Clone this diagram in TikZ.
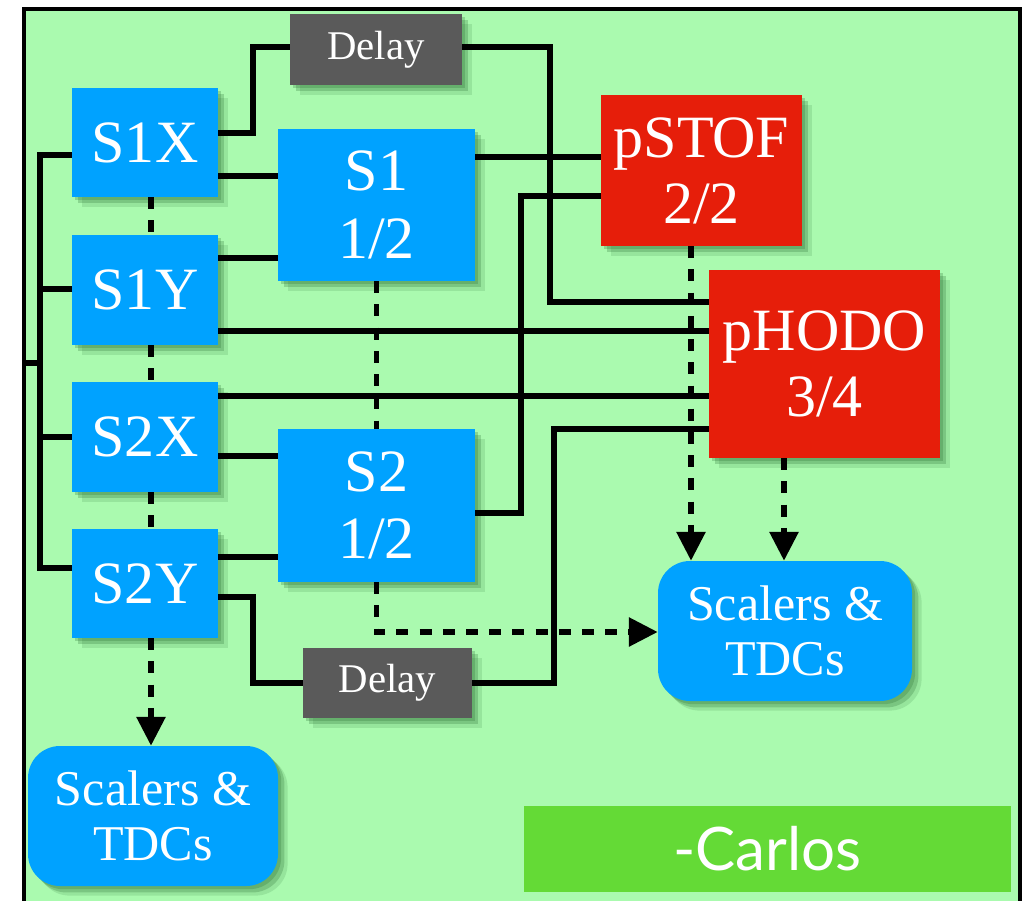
\documentclass[tikz,border=0pt]{standalone}
\usepackage{fontspec}
\setmainfont{Liberation Serif}
\newfontfamily\signfont{Lato}
\usetikzlibrary{arrows.meta,shadows}

\definecolor{panel}{RGB}{170,250,175}
\definecolor{chanblue}{RGB}{0,162,255}
\definecolor{trigred}{RGB}{230,30,10}
\definecolor{delaygray}{RGB}{90,90,90}
\definecolor{signgreen}{RGB}{100,218,54}
\definecolor{shadowgreen}{RGB}{40,110,50}

\begin{document}
\begin{tikzpicture}[x=0.025cm,y=-0.025cm,
  sz/.style 2 args={minimum width=#1*0.025cm, minimum height=#2*0.025cm},
  shadowed/.style={
    general shadow={shadow xshift=0.08cm, shadow yshift=-0.08cm, fill=shadowgreen, opacity=.25},
    general shadow={shadow xshift=0.16cm, shadow yshift=-0.16cm, fill=shadowgreen, opacity=.25},
    general shadow={shadow xshift=0.24cm, shadow yshift=-0.24cm, fill=shadowgreen, opacity=.15}},
  block/.style={shadowed, fill=chanblue, text=white, align=center, inner sep=0pt,
    font=\fontsize{42.7}{48}\selectfont},
  trig/.style={block, fill=trigred, font=\fontsize{42.7}{47}\selectfont},
  delaybox/.style={shadowed, fill=delaygray, text=white, inner sep=0pt,
    font=\fontsize{29}{34}\selectfont},
  readout/.style={shadowed, fill=chanblue, rounded corners=0.8cm, text=white, align=center,
    inner sep=0pt, font=\fontsize{35.6}{39}\selectfont},
  wire/.style={line width=0.13cm},
  logic/.style={line width=0.14cm, dash pattern=on 0.3cm off 0.28cm},
  tip/.style={-{Triangle[width=0.7cm,length=0.72cm]}}]

\useasboundingbox (0,0) rectangle (1031,900);

% panel and its frame
\fill[panel] (24,9) rectangle (1020,905);
\draw[line width=0.12cm] (24,905) -- (24,9) -- (1020,9) -- (1020,905);

% scintillator planes
\node[block, sz={146}{109}] (s1x) at (145,142.5) {S1X};
\node[block, sz={146}{110}] (s1y) at (145,290) {S1Y};
\node[block, sz={146}{110}] (s2x) at (145,437) {S2X};
\node[block, sz={146}{109}] (s2y) at (145,583.5) {S2Y};

% coincidence units
\node[block, sz={197}{152}] (s1) at (376.5,205) {S1\\1/2};
\node[block, sz={197}{153}] (s2) at (376.5,505.5) {S2\\1/2};

% trigger logic
\node[trig, sz={201}{151}] (pstof) at (701.5,170.5) {pSTOF\\2/2};
\node[trig, sz={231}{188}] (phodo) at (824.5,364) {pHODO\\3/4};

% delays
\node[delaybox, sz={172}{71}] (delayA) at (376,49.5) {Delay};
\node[delaybox, sz={169}{70}] (delayB) at (387.5,683) {Delay};

% readout
\node[readout, sz={254}{140}] (scalR) at (785,631) {Scalers \&\\TDCs};
\node[readout, sz={250}{140}] (scalL) at (153,816) {Scalers \&\\TDCs};

% signature
\node[fill=signgreen, text=white, sz={487}{86}, inner sep=0pt,
  font=\signfont\fontsize{42.7}{48}\selectfont] (sign) at (767.5,849) {-Carlos};

% input bus feeding the four planes
\coordinate (feed) at (24,363);
\draw[wire] (s1x.west |- 0,155) -| (40,568) -- (s2y.west |- 0,568);
\draw[wire] (40,289) -- (s1y.west |- 0,289);
\draw[wire] (40,437) -- (s2x.west |- 0,437);
\draw[wire] (feed) -- (40,363);

% plane outputs
\draw[wire] (s1x.east |- 0,133) -| (253,47) -- (delayA.west |- 0,47);
\draw[wire] (s1x.east |- 0,176) -- (s1.west |- 0,176);
\draw[wire] (s1y.east |- 0,258) -- (s1.west |- 0,258);
\draw[wire] (s1y.east |- 0,331) -- (phodo.west |- 0,331);
\draw[wire] (s2x.east |- 0,396) -- (phodo.west |- 0,396);
\draw[wire] (s2x.east |- 0,456) -- (s2.west |- 0,456);
\draw[wire] (s2y.east |- 0,557) -- (s2.west |- 0,557);
\draw[wire] (s2y.east |- 0,597) -| (253,683) -- (delayB.west |- 0,683);

% into the trigger logic
\draw[wire] (delayA.east |- 0,47) -| (550,302) -- (phodo.west |- 0,302);
\draw[wire] (s1.east |- 0,157) -- (pstof.west |- 0,157);
\draw[wire] (s2.east |- 0,513) -| (521,196) -- (pstof.west |- 0,196);
\draw[wire] (delayB.east |- 0,683) -| (554,429) -- (phodo.west |- 0,429);

% readout paths
\draw[logic] (s1x.south -| 151,0) -- (s1y.north -| 151,0);
\draw[logic] (s1y.south -| 151,0) -- (s2x.north -| 151,0);
\draw[logic] (s2x.south -| 151,0) -- (s2y.north -| 151,0);
\draw[logic, tip] (s2y.south -| 151,0) -- (scalL.north -| 151,0);
\draw[logic] (s1.south) -- (s2.north);
\draw[logic, tip] (s2.south) |- (scalR.west |- 0,632);
\draw[logic, tip] (pstof.south -| 691,0) -- (scalR.north -| 691,0);
\draw[logic, tip] (phodo.south -| 784,0) -- (scalR.north -| 784,0);
\end{tikzpicture}
\end{document}
